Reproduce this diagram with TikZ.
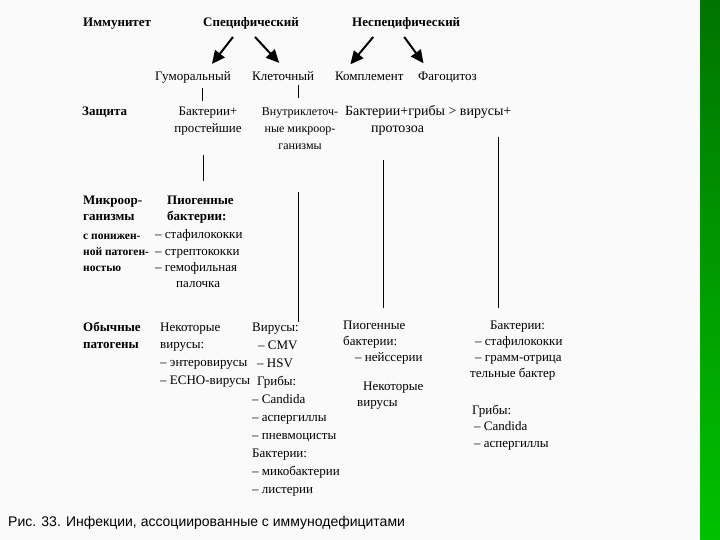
\documentclass[tikz,border=0pt]{standalone}
\usepackage{fontspec}
\setmainfont{Liberation Serif}
\setsansfont{Liberation Sans}
\usetikzlibrary{arrows.meta,calc}
\definecolor{bartop}{RGB}{0,116,0}
\definecolor{barbot}{RGB}{0,192,0}

\begin{document}
\begin{tikzpicture}[x=1pt,y=-1pt,
  txt/.style={inner sep=0pt,anchor=base west,align=left,font=\fontsize{13}{17}\selectfont},
  hd/.style={txt,font=\fontsize{13}{17}\selectfont\bfseries},
  arr/.style={line width=2pt,-{Triangle[length=13pt,width=12pt]}},
  vl/.style={line width=0.9pt}]
  \fill[white!98!black] (0,0) rectangle (720,540);
  \useasboundingbox (0,0) rectangle (720,540);
  \shade[top color=bartop,bottom color=barbot] (700,0) rectangle (720,540);

  \node[hd] (imm) at (83,27) {Иммунитет};
  \node[hd] (spec) at (203,27) {Специфический};
  \node[hd] (nspec) at (352,27) {Неспецифический};
  \node[txt] (hum) at (155,81) {Гуморальный};
  \node[txt] (cell) at (252,81) {Клеточный};
  \node[txt] (compl) at (335,81) {Комплемент};
  \node[txt] (phag) at (418,81) {Фагоцитоз};
  \draw[arr] ($(spec.south)+(-18,7)$) -- ($(hum.north)+(19,-8)$);
  \draw[arr] ($(spec.south)+(4,7)$) -- ($(cell.north)+(-4,-9)$);
  \draw[arr] ($(nspec.south)+(-33,7)$) -- ($(compl.north)+(-19,-8)$);
  \draw[arr] ($(nspec.south)+(-2,7)$) -- ($(phag.north)+(-24,-9)$);
  \draw[vl] ($(hum.south)+(9,4)$) -- ++(0,13);
  \draw[vl] ($(cell.south)+(15,4)$) -- ++(0,13);

  \node[hd] (prot) at (82,116) {Защита};
  \node[txt,anchor=base,align=center] (d1) at (208,133) {Бактерии+\\простейшие};
  \node[txt,anchor=base,align=center,font=\fontsize{12}{17}\selectfont] (d2) at (300,150) {Внутриклеточ-\\ные микроор-\\ганизмы};
  \node[txt,font=\fontsize{14}{17}\selectfont] (d3) at (345,133) {Бактерии+грибы > вирусы+\\\hspace*{26pt}протозоа};

  \node[hd] (mic) at (83,221) {Микроор-\\ганизмы};
  \node[txt,font=\fontsize{11.5}{16}\selectfont\bfseries] (mic2) at (83,271) {с понижен-\\ной патоген-\\ностью};
  \node[hd] (pyo) at (167,221) {Пиогенные\\бактерии:};
  \node[txt,font=\fontsize{13}{16}\selectfont] (pyo2) at (155,287) {– стафилококки\\– стрептококки\\– гемофильная\\\hspace*{21pt}палочка};

  \node[hd] (usu) at (83,348) {Обычные\\патогены};
  \node[txt,font=\fontsize{13}{17.6}\selectfont] (c1) at (160,384) {Некоторые\\вирусы:\\– энтеровирусы\\– ECHO-вирусы};
  \node[txt,font=\fontsize{13}{18}\selectfont] (c2) at (252,493) {Вирусы:\\\hspace*{6pt}– CMV\\\hspace*{5pt}– HSV\\\hspace*{5pt}Грибы:\\– Candida\\– аспергиллы\\– пневмоцисты\\Бактерии:\\– микобактерии\\– листерии};
  \node[txt,font=\fontsize{13}{16}\selectfont] (c3) at (343,361) {Пиогенные\\бактерии:\\\hspace*{12pt}– нейссерии};
  \node[txt,font=\fontsize{13}{15.5}\selectfont] (c3b) at (357,406) {\hspace*{6pt}Некоторые\\вирусы};
  \node[txt,font=\fontsize{13}{16}\selectfont] (c4) at (470,377) {\hspace*{20pt}Бактерии:\\\hspace*{5pt}– стафилококки\\\hspace*{5pt}– грамм-отрица\\тельные бактер};
  \node[txt,font=\fontsize{13}{16.5}\selectfont] (c4b) at (472,447) {Грибы:\\\hspace*{2pt}– Candida\\\hspace*{2pt}– аспергиллы};

  \coordinate (l1) at (203,155);
  \coordinate (l2) at (298,192);
  \coordinate (l3) at (383,160);
  \coordinate (l4) at (498,137);
  \draw[vl] (l1) -- ++(0,26);
  \draw[vl] (l2) -- (l2 |- c2.north);
  \draw[vl,shorten >=12pt] (l3) -- (l3 |- c3.north);
  \draw[vl,shorten >=12pt] (l4) -- (l4 |- c4.north);

  \node[txt,font=\sffamily\fontsize{14}{16}\selectfont] (cap) at (8,526) {Рис. 33. Инфекции, ассоциированные с иммунодефицитами};
\end{tikzpicture}
\end{document}
